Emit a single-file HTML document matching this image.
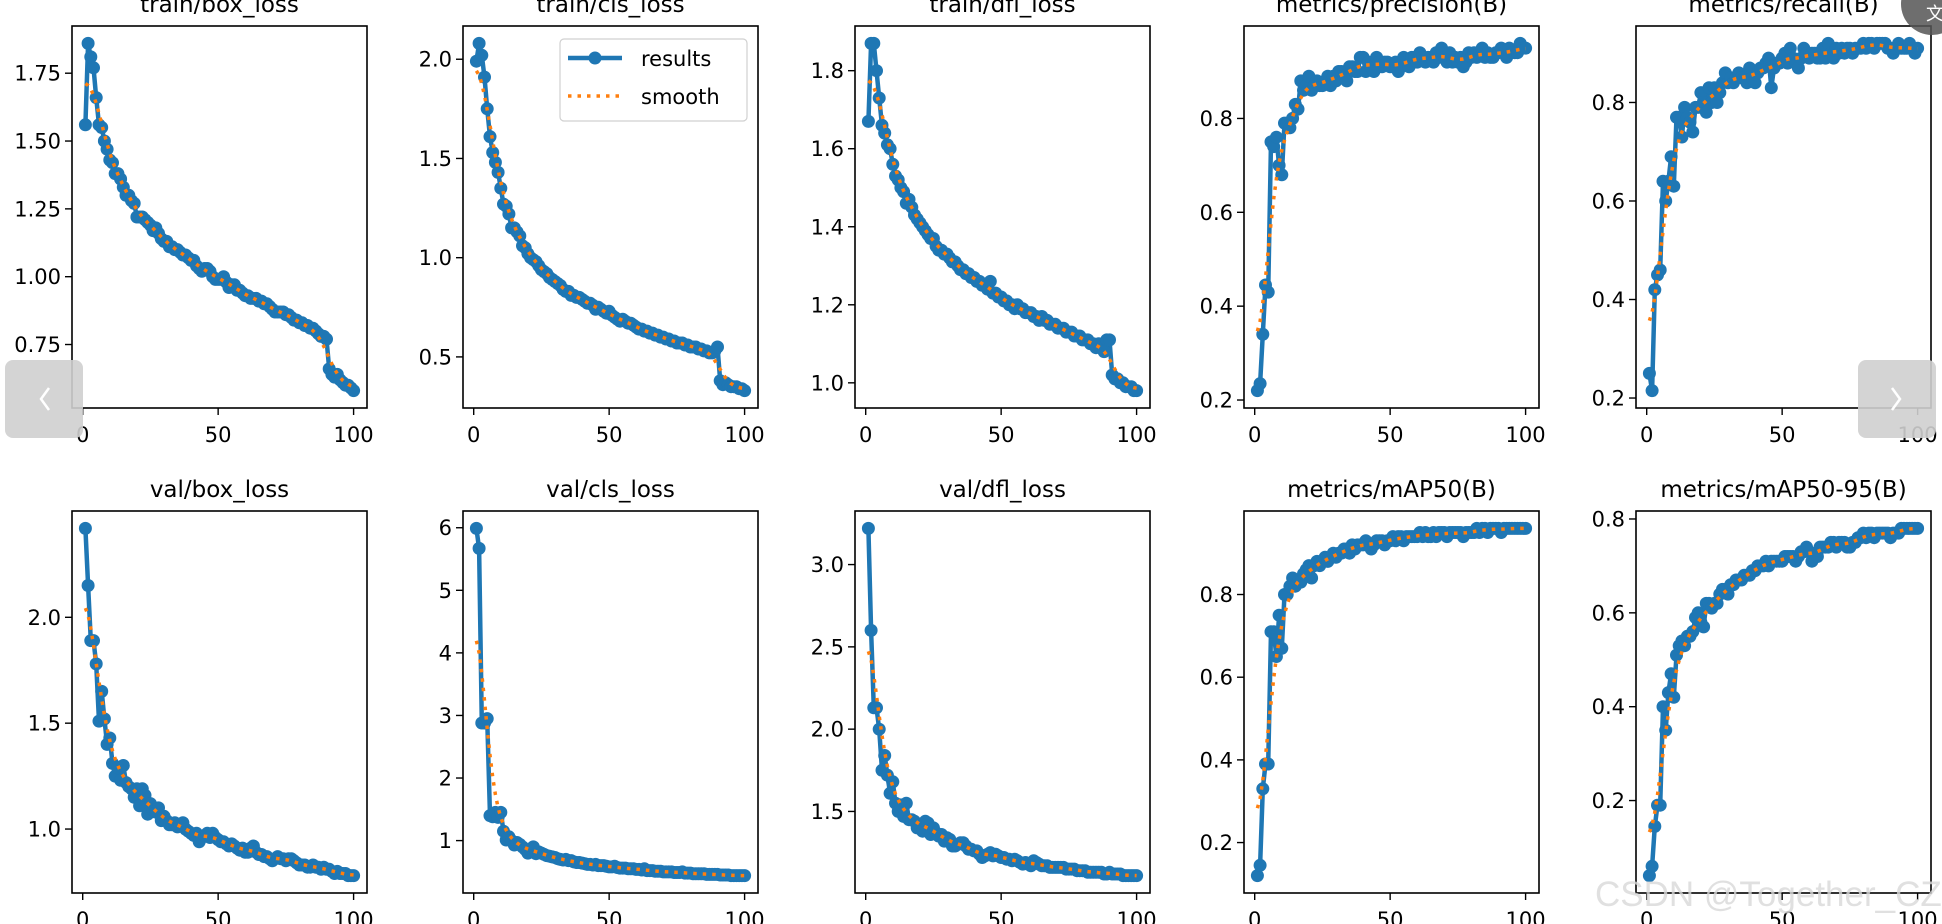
<!DOCTYPE html>
<html><head><meta charset="utf-8"><style>
html,body{margin:0;padding:0;background:#fff;}
svg{display:block;font-family:"DejaVu Sans","Liberation Sans",sans-serif;}
</style></head><body>
<svg id="fig" width="1942" height="924" viewBox="0 0 1942 924" xmlns="http://www.w3.org/2000/svg"></svg>
<script>
const epochs = [];
for (let i = 1; i <= 100; i++) epochs.push(i);

const titles = ["train/box_loss","train/cls_loss","train/dfl_loss","metrics/precision(B)","metrics/recall(B)",
"val/box_loss","val/cls_loss","val/dfl_loss","metrics/mAP50(B)","metrics/mAP50-95(B)"];

const trainBox = [1.56,1.86,1.81,1.77,1.66,1.56,1.55,1.50,1.47,1.43,
1.42,1.38,1.38,1.36,1.33,1.30,1.30,1.28,1.27,1.22,
1.22,1.22,1.21,1.20,1.19,1.17,1.18,1.16,1.14,1.13,
1.13,1.11,1.11,1.10,1.10,1.09,1.08,1.08,1.07,1.06,
1.06,1.04,1.03,1.02,1.03,1.03,1.02,1.00,0.99,0.99,
0.99,1.00,0.98,0.96,0.97,0.97,0.95,0.95,0.94,0.93,
0.93,0.92,0.92,0.92,0.91,0.91,0.90,0.90,0.89,0.88,
0.87,0.87,0.87,0.87,0.86,0.86,0.85,0.84,0.84,0.83,
0.83,0.82,0.82,0.81,0.81,0.80,0.79,0.78,0.78,0.77,
0.66,0.64,0.63,0.64,0.62,0.61,0.60,0.60,0.59,0.58];
const trainCls = [1.99,2.08,2.02,1.91,1.75,1.61,1.53,1.48,1.43,1.35,
1.27,1.26,1.22,1.15,1.15,1.13,1.11,1.06,1.05,1.02,
1.00,0.99,0.98,0.96,0.94,0.93,0.92,0.90,0.89,0.88,
0.87,0.86,0.84,0.83,0.83,0.81,0.81,0.80,0.80,0.79,
0.78,0.77,0.77,0.76,0.74,0.75,0.74,0.73,0.72,0.73,
0.71,0.70,0.69,0.68,0.69,0.68,0.67,0.67,0.66,0.65,
0.64,0.64,0.63,0.63,0.62,0.62,0.61,0.61,0.60,0.60,
0.59,0.59,0.58,0.58,0.57,0.57,0.57,0.56,0.56,0.55,
0.55,0.55,0.54,0.54,0.53,0.53,0.52,0.52,0.53,0.55,
0.38,0.36,0.37,0.36,0.35,0.35,0.35,0.34,0.34,0.33];
const trainDfl = [1.67,1.87,1.87,1.80,1.73,1.66,1.64,1.61,1.60,1.56,
1.53,1.52,1.50,1.49,1.46,1.47,1.45,1.43,1.42,1.41,
1.40,1.39,1.38,1.37,1.37,1.35,1.34,1.34,1.33,1.33,
1.32,1.31,1.31,1.30,1.29,1.29,1.28,1.28,1.27,1.27,
1.26,1.26,1.25,1.25,1.24,1.26,1.23,1.23,1.22,1.22,
1.21,1.21,1.20,1.20,1.19,1.20,1.19,1.19,1.18,1.18,
1.18,1.17,1.17,1.16,1.17,1.16,1.16,1.15,1.15,1.15,
1.14,1.14,1.14,1.13,1.13,1.13,1.12,1.12,1.12,1.11,
1.11,1.11,1.10,1.10,1.09,1.10,1.09,1.08,1.11,1.11,
1.02,1.01,1.01,1.00,1.00,0.99,0.99,0.99,0.98,0.98];
const precision = [0.22,0.235,0.34,0.445,0.43,0.75,0.74,0.76,0.70,0.68,
0.79,0.79,0.78,0.80,0.83,0.82,0.88,0.86,0.87,0.89,
0.86,0.87,0.88,0.87,0.87,0.88,0.89,0.87,0.89,0.88,
0.90,0.90,0.89,0.88,0.91,0.91,0.90,0.90,0.93,0.93,
0.90,0.92,0.91,0.90,0.93,0.92,0.91,0.92,0.92,0.91,
0.91,0.92,0.90,0.91,0.93,0.92,0.91,0.93,0.93,0.92,
0.94,0.93,0.92,0.93,0.93,0.92,0.94,0.93,0.95,0.93,
0.92,0.94,0.92,0.93,0.92,0.93,0.91,0.92,0.94,0.93,
0.94,0.93,0.94,0.95,0.93,0.94,0.93,0.93,0.94,0.94,
0.95,0.94,0.93,0.95,0.94,0.94,0.94,0.96,0.95,0.95];
const recall = [0.25,0.215,0.42,0.45,0.46,0.64,0.60,0.64,0.69,0.63,
0.77,0.77,0.73,0.79,0.77,0.76,0.74,0.79,0.79,0.82,
0.80,0.78,0.83,0.80,0.83,0.80,0.82,0.84,0.86,0.84,
0.85,0.84,0.85,0.86,0.85,0.85,0.84,0.87,0.85,0.84,
0.86,0.87,0.87,0.88,0.89,0.83,0.87,0.88,0.88,0.89,
0.90,0.88,0.91,0.89,0.88,0.87,0.89,0.91,0.90,0.89,
0.90,0.90,0.89,0.89,0.91,0.89,0.92,0.90,0.89,0.91,
0.90,0.91,0.90,0.91,0.91,0.90,0.91,0.91,0.91,0.92,
0.91,0.92,0.92,0.91,0.92,0.92,0.92,0.92,0.91,0.91,
0.90,0.91,0.92,0.91,0.91,0.91,0.92,0.91,0.90,0.91];
const valBox = [2.42,2.15,1.89,1.89,1.78,1.51,1.65,1.52,1.40,1.43,
1.31,1.25,1.29,1.23,1.30,1.22,1.20,1.19,1.15,1.19,
1.11,1.19,1.16,1.07,1.12,1.09,1.08,1.10,1.04,1.06,
1.04,1.02,1.02,1.03,1.01,1.02,1.03,1.00,0.99,0.98,
0.97,0.98,0.94,0.96,0.97,0.98,0.96,0.98,0.96,0.95,
0.94,0.94,0.93,0.92,0.93,0.92,0.91,0.90,0.91,0.89,
0.89,0.91,0.92,0.89,0.88,0.88,0.87,0.87,0.86,0.85,
0.86,0.87,0.86,0.86,0.85,0.86,0.86,0.85,0.84,0.83,
0.83,0.83,0.82,0.82,0.83,0.82,0.82,0.81,0.82,0.81,
0.81,0.80,0.79,0.80,0.79,0.79,0.79,0.78,0.78,0.78];
const valCls = [5.99,5.67,2.88,2.88,2.95,1.40,1.38,1.45,1.37,1.45,
1.15,1.01,1.06,1.00,0.93,0.97,0.94,0.90,0.86,0.80,
0.84,0.90,0.79,0.82,0.80,0.78,0.76,0.75,0.74,0.73,
0.71,0.70,0.69,0.70,0.68,0.68,0.66,0.65,0.65,0.64,
0.63,0.62,0.62,0.61,0.62,0.60,0.60,0.60,0.59,0.58,
0.58,0.59,0.57,0.56,0.56,0.56,0.55,0.55,0.55,0.54,
0.54,0.53,0.55,0.52,0.52,0.52,0.51,0.51,0.51,0.50,
0.50,0.50,0.50,0.49,0.49,0.49,0.50,0.48,0.48,0.48,
0.47,0.47,0.47,0.47,0.47,0.46,0.46,0.46,0.46,0.46,
0.45,0.45,0.45,0.45,0.44,0.44,0.44,0.44,0.44,0.44];
const valDfl = [3.22,2.60,2.13,2.13,2.00,1.75,1.84,1.72,1.61,1.68,
1.55,1.50,1.54,1.47,1.55,1.45,1.45,1.44,1.40,1.42,
1.38,1.44,1.43,1.36,1.40,1.37,1.35,1.36,1.32,1.34,
1.33,1.29,1.29,1.30,1.31,1.31,1.29,1.27,1.27,1.26,
1.26,1.24,1.22,1.23,1.24,1.25,1.23,1.24,1.23,1.22,
1.22,1.21,1.21,1.20,1.21,1.20,1.19,1.18,1.19,1.18,
1.17,1.20,1.19,1.18,1.17,1.17,1.17,1.16,1.16,1.16,
1.16,1.16,1.16,1.15,1.15,1.15,1.15,1.14,1.14,1.14,
1.14,1.13,1.13,1.13,1.13,1.13,1.13,1.12,1.12,1.13,
1.12,1.12,1.12,1.12,1.11,1.11,1.11,1.11,1.11,1.11];
const map50 = [0.12,0.145,0.33,0.39,0.39,0.71,0.71,0.65,0.75,0.67,
0.80,0.80,0.82,0.84,0.82,0.83,0.83,0.85,0.86,0.87,
0.84,0.87,0.88,0.87,0.88,0.89,0.88,0.89,0.90,0.89,
0.90,0.90,0.91,0.91,0.90,0.92,0.91,0.92,0.92,0.92,
0.93,0.92,0.91,0.92,0.93,0.93,0.93,0.92,0.93,0.93,
0.94,0.93,0.94,0.94,0.93,0.94,0.94,0.94,0.94,0.94,
0.95,0.94,0.95,0.94,0.94,0.95,0.94,0.95,0.95,0.95,
0.94,0.95,0.95,0.95,0.95,0.95,0.94,0.95,0.95,0.95,
0.95,0.96,0.95,0.96,0.96,0.95,0.96,0.96,0.96,0.96,
0.95,0.96,0.96,0.96,0.96,0.96,0.96,0.96,0.96,0.96];
const map5095 = [0.04,0.06,0.145,0.19,0.19,0.40,0.35,0.43,0.47,0.42,
0.51,0.53,0.54,0.53,0.55,0.55,0.56,0.59,0.60,0.58,
0.57,0.62,0.62,0.61,0.62,0.62,0.64,0.65,0.65,0.64,
0.66,0.66,0.67,0.67,0.67,0.68,0.68,0.68,0.69,0.69,
0.70,0.70,0.70,0.71,0.70,0.71,0.71,0.71,0.71,0.71,
0.72,0.72,0.72,0.72,0.71,0.72,0.73,0.73,0.74,0.73,
0.71,0.72,0.72,0.74,0.74,0.74,0.74,0.75,0.75,0.74,
0.75,0.75,0.75,0.74,0.74,0.75,0.75,0.76,0.76,0.77,
0.76,0.77,0.77,0.76,0.77,0.77,0.77,0.77,0.77,0.76,
0.77,0.77,0.77,0.78,0.78,0.78,0.78,0.78,0.78,0.78];

const xTicks = [0,50,100];
const yTicksBox = [0.75,1.00,1.25,1.50,1.75];
const yTicksCls = [0.5,1.0,1.5,2.0];
const yTicksDfl = [1.0,1.2,1.4,1.6,1.8];
const yTicksMetric = [0.2,0.4,0.6,0.8];
const yTicksValBox = [1.0,1.5,2.0];
const yTicksValCls = [1,2,3,4,5,6];
const yTicksValDfl = [1.5,2.0,2.5,3.0];

const series = [trainBox,trainCls,trainDfl,precision,recall,valBox,valCls,valDfl,map50,map5095];
const yTicks = [yTicksBox,yTicksCls,yTicksDfl,yTicksMetric,yTicksMetric,yTicksValBox,yTicksValCls,yTicksValDfl,yTicksMetric,yTicksMetric];
const decimals = [2,1,1,1,1,1,0,1,1,1];

const NS = "http://www.w3.org/2000/svg";
const svg = document.getElementById("fig");
function mk(tag, attrs, parent){ const e=document.createElementNS(NS,tag); for(const k in attrs) e.setAttribute(k,attrs[k]); (parent||svg).appendChild(e); return e; }

function gaussSmooth(y, sigma){
  const r = Math.round(4*sigma), w=[]; let s=0;
  for(let k=-r;k<=r;k++){ const v=Math.exp(-0.5*k*k/(sigma*sigma)); w.push(v); s+=v; }
  const n=y.length, out=[];
  for(let i=0;i<n;i++){ let acc=0;
    for(let k=-r;k<=r;k++){ let j=i+k;
      while(j<0||j>=n){ if(j<0) j=-j-1; if(j>=n) j=2*n-j-1; }
      acc+=w[k+r]*y[j]; }
    out.push(acc/s); }
  return out;
}

const lefts=[72,463,855,1244,1636], tops=[26,511], W=295, H=382;
const xMin=1-0.05*99, xMax=100+0.05*99;

for(let p=0;p<10;p++){
  const L=lefts[p%5], T=tops[Math.floor(p/5)];
  const ys=series[p];
  const lo=Math.min(...ys), hi=Math.max(...ys), m=(hi-lo)*0.05;
  const yMin=lo-m, yMax=hi+m;
  const sx=v=>L+(v-xMin)/(xMax-xMin)*W;
  const sy=v=>T+H-(v-yMin)/(yMax-yMin)*H;
  const g=mk("g",{});
  
  
  const t=mk("text",{x:L+W/2,y:T-14,"text-anchor":"middle","font-size":"23",fill:"#000"},g);
  t.textContent=titles[p];
  
  
  const clip=mk("clipPath",{id:"c"+p},g); mk("rect",{x:L,y:T,width:W,height:H},clip);
  const pts=ys.map((v,i)=>sx(epochs[i]).toFixed(1)+","+sy(v).toFixed(1)).join(" ");
  const line=mk("polyline",{points:pts,fill:"none",stroke:"#1f77b4","stroke-width":"4.5","stroke-linejoin":"round","clip-path":"url(#c"+p+")"},g);
  
  
  ys.forEach((v,i)=>{
    const c=mk("circle",{cx:sx(epochs[i]).toFixed(1),cy:sy(v).toFixed(1),r:"6.5",fill:"#1f77b4"},g);
    
    
  });
  const sm=gaussSmooth(ys,3);
  const sp=sm.map((v,i)=>sx(epochs[i]).toFixed(1)+","+sy(v).toFixed(1)).join(" ");
  const sl=mk("polyline",{points:sp,fill:"none",stroke:"#ff7f0e","stroke-width":"3.5","stroke-dasharray":"3.5 6"},g);
  
  
  const fr=mk("rect",{x:L,y:T,width:W,height:H,fill:"none",stroke:"#000","stroke-width":"1.6"},g);
  
  
  xTicks.forEach(v=>{
    const x=sx(v);
    mk("line",{x1:x,x2:x,y1:T+H,y2:T+H+7,stroke:"#000","stroke-width":"1.4"},g);
    const tl=mk("text",{x:x,y:T+H+34,"text-anchor":"middle","font-size":"21",fill:"#000"},g);
    tl.textContent=String(v);
    
    
  });
  yTicks[p].forEach(v=>{
    const y=sy(v);
    mk("line",{x1:L-7,x2:L,y1:y,y2:y,stroke:"#000","stroke-width":"1.4"},g);
    const tl=mk("text",{x:L-11,y:y+7.5,"text-anchor":"end","font-size":"21",fill:"#000"},g);
    tl.textContent=v.toFixed(decimals[p]);
    
    
  });
}
</script>
<svg style="position:absolute;left:0;top:0" width="1942" height="924">
  <g font-family="DejaVu Sans, Liberation Sans, sans-serif">
    <rect x="560" y="39" width="187" height="82" rx="4" fill="#fff" fill-opacity="0.85" stroke="#d0d0d0" stroke-width="1.2"/>
    <line x1="568" y1="58" x2="622" y2="58" stroke="#1f77b4" stroke-width="4.5"/>
    <circle cx="595" cy="58" r="6.5" fill="#1f77b4"/>
    <text x="641" y="66" font-size="21" fill="#000">results</text>
    <line x1="568" y1="96" x2="622" y2="96" stroke="#ff7f0e" stroke-width="3.5" stroke-dasharray="3.5 6"/>
    <text x="641" y="104" font-size="21" fill="#000">smooth</text>
  </g>
  <g>
    <rect x="5" y="360" width="78" height="78" rx="8" fill="#cfcfcf" fill-opacity="0.9"/>
    <polyline points="49,388 41,399 49,410" fill="none" stroke="#fff" stroke-width="2.5"/>
  </g>
  <g>
    <rect x="1858" y="360" width="78" height="78" rx="8" fill="#cfcfcf" fill-opacity="0.9"/>
    <polyline points="1892,388 1900,399 1892,410" fill="none" stroke="#fff" stroke-width="2.5"/>
  </g>
  <g>
    <circle cx="1932" cy="4" r="31" fill="#555" fill-opacity="0.85"/>
    <text x="1926" y="20" font-size="18" fill="#fff" font-family="Noto Sans CJK SC, sans-serif">文</text>
  </g>
  <text x="1595" y="906" font-size="35" fill="#d8d8d8" fill-opacity="0.8" font-family="Liberation Sans, sans-serif">CSDN @Together_CZ</text>
</svg>
</body></html>
